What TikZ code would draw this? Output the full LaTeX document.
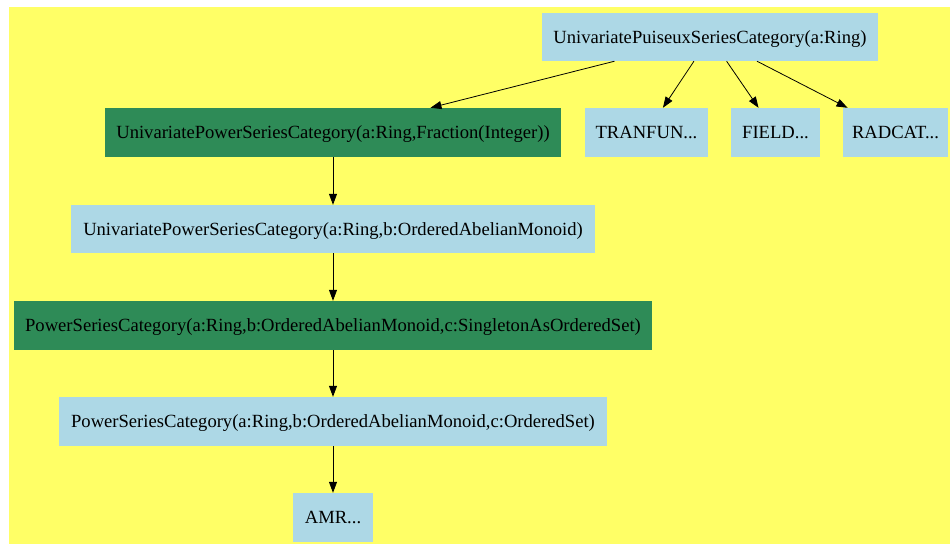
\documentclass[tikz,border=0pt]{standalone}
\usepackage{fontspec}
\setmainfont{Liberation Serif}
\usetikzlibrary{arrows.meta}
\definecolor{bgyellow}{HTML}{FFFF66}
\definecolor{lblue}{HTML}{ADD8E6}
\definecolor{sgreen}{HTML}{2E8B57}
\tikzset{
  box/.style={fill=lblue, draw=none, inner sep=0pt, minimum height=48pt, text height=12.3pt, text depth=0pt, font=\fontsize{18.6pt}{21pt}\selectfont, text=black},
  gbox/.style={box, fill=sgreen},
  edge/.style={draw=black, line width=0.8pt, -{Triangle[length=11pt,width=8pt]}}
}
\begin{document}
\begin{tikzpicture}[x=1pt,y=-1pt]
\useasboundingbox (0,0) rectangle (950,544);
\fill[bgyellow] (9,7) rectangle (950,544);
\node[box, minimum width=336pt] (upsc) at (710,37) {UnivariatePuiseuxSeriesCategory(a:Ring)};
\node[gbox, minimum width=456pt, minimum height=49pt] (upsf) at (333,132.5) {UnivariatePowerSeriesCategory(a:Ring,Fraction(Integer))};
\node[box, minimum width=123pt, minimum height=49pt] (tran) at (646.5,132.5) {TRANFUN...};
\node[box, minimum width=89pt, minimum height=49pt] (field) at (775.5,132.5) {FIELD...};
\node[box, minimum width=105pt, minimum height=49pt] (radcat) at (895.5,132.5) {RADCAT...};
\node[box, minimum width=524pt] (upso) at (333,229) {UnivariatePowerSeriesCategory(a:Ring,b:OrderedAbelianMonoid)};
\node[gbox, minimum width=638pt, minimum height=49pt] (psc1) at (333,325.5) {PowerSeriesCategory(a:Ring,b:OrderedAbelianMonoid,c:SingletonAsOrderedSet)};
\node[box, minimum width=548pt, minimum height=49pt] (psc2) at (333,421.5) {PowerSeriesCategory(a:Ring,b:OrderedAbelianMonoid,c:OrderedSet)};
\node[box, minimum width=80pt, minimum height=49pt] (amr) at (333,517.5) {AMR...};
\draw[edge] (upsc) -- (upsf);
\draw[edge] (upsc) -- (tran);
\draw[edge] (upsc) -- (field);
\draw[edge] (upsc) -- (radcat);
\draw[edge] (upsf) -- (upso);
\draw[edge] (upso) -- (psc1);
\draw[edge] (psc1) -- (psc2);
\draw[edge] (psc2) -- (amr);
\end{tikzpicture}
\end{document}
